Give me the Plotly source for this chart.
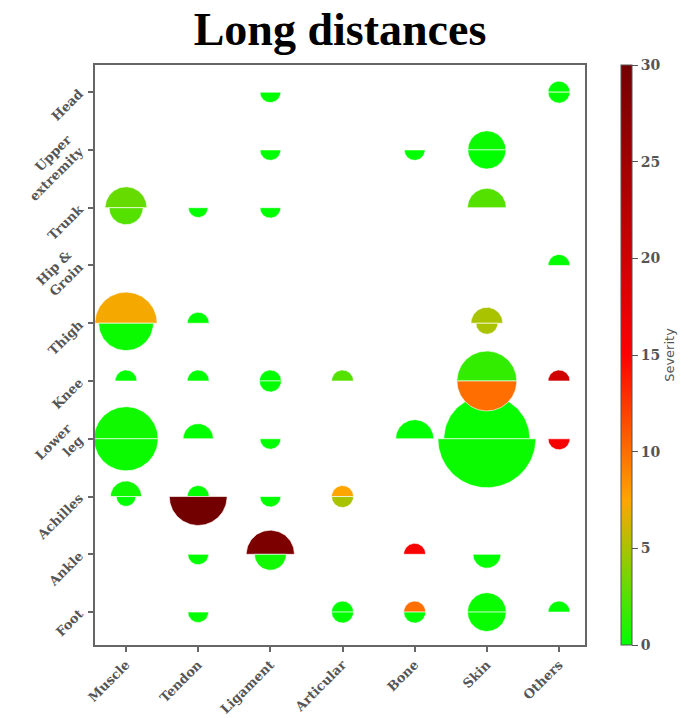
import numpy as np
import plotly.graph_objects as go
from plotly.colors import sample_colorscale

# ---------------- data ----------------
tissues = ["Muscle", "Tendon", "Ligament", "Articular", "Bone", "Skin", "Others"]
regions = ["Foot", "Ankle", "Achilles", "Lower<br>leg", "Knee", "Thigh",
           "Hip &<br>Groin", "Trunk", "Upper<br>extremity", "Head"]

# upper half-circles
top_tissue = ["Others", "Skin", "Muscle", "Skin", "Others", "Muscle", "Tendon", "Skin",
              "Muscle", "Tendon", "Ligament", "Articular", "Skin", "Others",
              "Muscle", "Tendon", "Bone", "Skin",
              "Muscle", "Tendon", "Articular",
              "Ligament", "Bone",
              "Articular", "Bone", "Skin", "Others"]
top_region = ["Head", "Upper<br>extremity", "Trunk", "Trunk", "Hip &<br>Groin", "Thigh", "Thigh", "Thigh",
              "Knee", "Knee", "Knee", "Knee", "Knee", "Knee",
              "Lower<br>leg", "Lower<br>leg", "Lower<br>leg", "Lower<br>leg",
              "Achilles", "Achilles", "Achilles",
              "Ankle", "Ankle",
              "Foot", "Foot", "Foot", "Foot"]
top_incidence = [1, 3, 3.6, 3.1, 1, 8, 1, 2.1,
                 1, 1, 1, 1, 7.4, 1,
                 8.5, 1.9, 3, 15.3,
                 2, 1, 1,
                 4.8, 1,
                 1, 1, 3.1, 1]
top_severity = [0, 0.3, 3, 2.5, 0, 7.2, 0, 5,
                0, 0, 0, 2.5, 1.5, 20,
                0.5, 0, 0, 0.2,
                0.5, 0, 7.5,
                29, 15.5,
                0, 10, 0.2, 0]

# lower half-circles
bot_tissue = ["Ligament", "Others", "Ligament", "Bone", "Skin",
              "Muscle", "Tendon", "Ligament",
              "Muscle", "Skin",
              "Ligament", "Skin",
              "Muscle", "Ligament", "Skin", "Others",
              "Muscle", "Tendon", "Ligament", "Articular",
              "Tendon", "Ligament", "Skin",
              "Tendon", "Articular", "Bone", "Skin"]
bot_region = ["Head", "Head", "Upper<br>extremity", "Upper<br>extremity", "Upper<br>extremity",
              "Trunk", "Trunk", "Trunk",
              "Thigh", "Thigh",
              "Knee", "Knee",
              "Lower<br>leg", "Lower<br>leg", "Lower<br>leg", "Lower<br>leg",
              "Achilles", "Achilles", "Achilles", "Achilles",
              "Ankle", "Ankle", "Ankle",
              "Foot", "Foot", "Foot", "Foot"]
bot_incidence = [0.9, 1, 0.9, 0.9, 3,
                 2.4, 0.8, 0.9,
                 6.2, 1,
                 1, 7.4,
                 8.5, 0.9, 19.8, 1,
                 0.8, 6.9, 0.9, 1,
                 0.9, 2.1, 1.6,
                 0.9, 1, 1, 3.1]
bot_severity = [0, 0, 0, 0, 0,
                2.5, 0, 0,
                0.3, 5,
                0, 10,
                0.3, 0, 0.3, 16,
                0, 30, 0, 5,
                0, 0.5, 0,
                0, 0, 0, 0.2]

sev_ticks = [0, 5, 10, 15, 20, 25, 30]

# ---------------- styling / geometry ----------------
W, H = 689, 718
ML, MR, MT, MB = 95, 104, 65, 73
XR = [-0.43, 6.36]
YR = [-0.57, 9.47]
px_x = (W - ML - MR) / (XR[1] - XR[0])
px_y = (H - MT - MB) / (YR[1] - YR[0])
R1 = 11.0  # pixel radius of a half-circle of incidence 1

cscale = [[0.0, "rgb(0,255,0)"], [0.25, "rgb(255,165,0)"],
          [0.5, "rgb(255,0,0)"], [1.0, "rgb(115,0,0)"]]
SMAX = 30.0


def half(xc, yc, r_px, upper):
    t = np.linspace(0, np.pi, 61) if upper else np.linspace(np.pi, 2 * np.pi, 61)
    xs = xc + r_px * np.cos(t) / px_x
    ys = yc + r_px * np.sin(t) / px_y
    return np.append(xs, xs[0]), np.append(ys, ys[0])


fig = go.Figure()


def add_halves(tis, reg, inc, sev, upper):
    cols = sample_colorscale(cscale, [s / SMAX for s in sev])
    for t, g, v, c in zip(tis, reg, inc, cols):
        xc = tissues.index(t)
        yc = regions.index(g)
        xs, ys = half(xc, yc, R1 * np.sqrt(v), upper)
        fig.add_trace(go.Scatter(x=xs, y=ys, mode="lines", fill="toself",
                                 fillcolor=c, line=dict(color="rgba(255,255,255,0.8)", width=0.8),
                                 hoverinfo="skip", showlegend=False))


add_halves(top_tissue, top_region, top_incidence, top_severity, True)
add_halves(bot_tissue, bot_region, bot_incidence, bot_severity, False)

# colorbar carrier
fig.add_trace(go.Scatter(
    x=[-5, -5], y=[-5, -5], mode="markers",
    marker=dict(color=[0, SMAX], cmin=0, cmax=SMAX, colorscale=cscale, size=1,
                showscale=True,
                colorbar=dict(x=(621 - ML) / (W - ML - MR), xanchor="left", xref="paper",
                              y=0.5, yanchor="middle", len=1, lenmode="fraction",
                              xpad=0, ypad=0,
                              thickness=11, outlinewidth=1, outlinecolor="#555",
                              tickvals=sev_ticks, ticks="outside", ticklen=6,
                              tickcolor="#555",
                              tickfont=dict(family="DejaVu Serif", size=14, color="#555", weight="bold"),
                              title=dict(text="Severity", side="right",
                                         font=dict(family="DejaVu Sans", size=13, color="#555")))),
    hoverinfo="skip", showlegend=False))

axis_common = dict(showgrid=False, zeroline=False, showline=True, mirror=True,
                   linecolor="#666", linewidth=2, ticks="outside", ticklen=5,
                   tickcolor="#666", tickwidth=1.5,
                   tickfont=dict(family="DejaVu Serif", size=13, color="#555", weight="bold"))

fig.update_layout(
    width=W, height=H,
    margin=dict(l=ML, r=MR, t=MT, b=MB, autoexpand=False),
    paper_bgcolor="white", plot_bgcolor="white",
    title=dict(text="Long distances", x=0.5, xref="paper", xanchor="center",
               y=1 - 29 / H, yref="container", yanchor="middle",
               font=dict(family="Liberation Serif", size=46, color="black", weight="bold")),
    xaxis=dict(range=XR, tickvals=list(range(len(tissues))), ticktext=tissues,
               tickangle=-45, ticklabelstandoff=0, **axis_common),
    yaxis=dict(range=YR, tickvals=list(range(len(regions))), ticktext=regions,
               tickangle=-45, ticklabelstandoff=6, **axis_common),
)

fig.write_html("out.html", config={"displayModeBar": False},
               post_script="document.body.style.margin='0';")
